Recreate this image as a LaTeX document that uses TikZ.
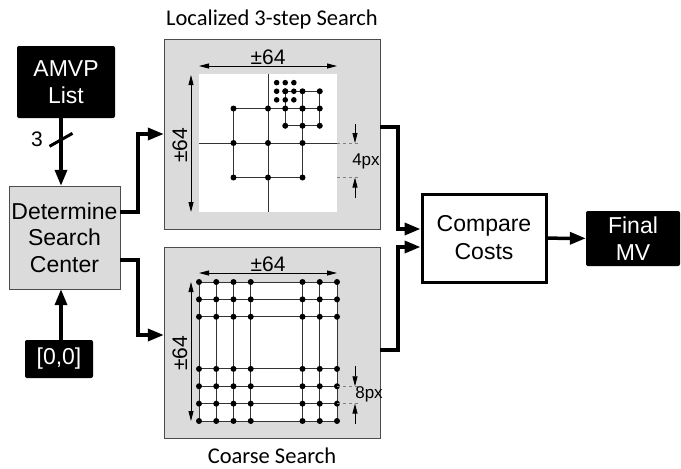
\documentclass[tikz,border=0pt]{standalone}
\usepackage{fontspec}
\setmainfont{Liberation Sans}
\newfontfamily\captionfont{Carlito}
\usetikzlibrary{arrows.meta,positioning,calc}
\tikzset
{
    process/.style={rectangle, draw=black!70, fill=black!14, align=center, inner sep=0pt, font=\fontsize{23}{26.5}\selectfont},
    terminal/.style={rectangle, rounded corners=2pt, fill=black, text=white, align=center, inner sep=0pt, font=\fontsize{23}{27}\selectfont},
    panel/.style={rectangle, draw=black!70, fill=black!14, inner sep=0pt, minimum width=216pt},
    compare/.style={rectangle, draw=black, line width=3pt, fill=white, align=center, inner sep=0pt, font=\fontsize{23}{28}\selectfont},
    arrow/.style={line width=3.5pt, -{Triangle[length=16pt,width=12pt]}},
    dimarrow/.style={line width=0.9pt, {Triangle[length=10pt,width=5pt]}-{Triangle[length=10pt,width=5pt]}},
    tickarrow/.style={line width=0.9pt, -{Triangle[length=10pt,width=5pt]}},
    gridline/.style={line width=0.9pt, black!80},
    dimline/.style={line width=0.9pt, black!50, dashed},
    dimlabel/.style={font=\fontsize{21}{24}\selectfont},
    pxlabel/.style={font=\fontsize{17}{20}\selectfont},
    caption/.style={inner sep=0pt, font=\captionfont\fontsize{22.5}{25}\selectfont}
}

\begin{document}
\begin{tikzpicture}[x=1pt, y=-1pt]
	\useasboundingbox (0,0) rectangle (681,469);
	\node (amvp) [terminal, minimum width=98pt, minimum height=72pt] at (66,82) {AMVP\\List};
	\node (center) [process, minimum width=111pt, minimum height=103pt] at (64.5,237.5) {Determine\\Search\\Center};
	\node (zero) [terminal, minimum width=68pt, minimum height=38pt] at (59,359) {[0,0]};
	\node (local) [panel, minimum height=190pt] at (272,134) {};
	\node (coarse) [panel, minimum height=191pt] at (272,342.5) {};
	\node (cmp) [compare, minimum width=124pt, minimum height=88pt] at (484,238) {Compare\\Costs};
	\node (final) [terminal, minimum width=94pt, minimum height=55pt] at (633,238.5) {Final\\MV};
	\node (localtitle) [caption] at (272,19) {Localized 3-step Search};
	\node (coarsetitle) [caption] at (272,455.5) {Coarse Search};

	% local 3-step search
	\fill[white] (199,74) rectangle (337,212);
	\draw[gridline] (268,74) -- (268,212);
	\draw[gridline] (199,143) -- (337,143);
	\draw[gridline] (233.5,108.5) rectangle (302.5,177.5);
	\draw[gridline] (285.25,91.25) rectangle (319.75,125.75);
	\draw[gridline] (302.5,91.25) -- (302.5,108.5);
	\draw[gridline] (302.5,108.5) -- (319.75,108.5);
	\foreach \i in {-1,0,1}
		\foreach \j in {-1,0,1}
		{
			\fill (268+34.5*\i, 143+34.5*\j) circle (3pt);
			\fill (302.5+17.25*\i, 108.5+17.25*\j) circle (3pt);
			\fill (285.25+8.6*\i, 91.25+8.6*\j) circle (2.8pt);
		}
	\draw[dimarrow] (199,66) -- node (lw) [dimlabel, above=-2pt] {±64} (337,66);
	\draw[dimarrow] (191,75) -- node (lh) [dimlabel, rotate=90, above=-2pt] {±64} (191,212);
	\draw[dimline] (337,143) -- (361,143);
	\draw[dimline] (337,177.5) -- (361,177.5);
	\draw[tickarrow] (355,124) -- (355,143);
	\draw[tickarrow] (355,198) -- (355,177.5);
	\node (lstep) [pxlabel] at (366,161) {4px};

	% coarse search
	\fill[white] (199,282) rectangle (337,421);
	\foreach \i in {-4,-3,-2,-1,2,3,4}
		\draw[gridline] (268+17.25*\i, 282) -- (268+17.25*\i, 421);
	\foreach \j in {-4,-3,-2,1,2,3,4}
		\draw[gridline] (199, 351.5+17.375*\j) -- (337, 351.5+17.375*\j);
	\foreach \i in {-4,-3,-2,-1,2,3,4}
		\foreach \j in {-4,-3,-2,1,2,3,4}
			\fill (268+17.25*\i, 351.5+17.375*\j) circle (3pt);
	\draw[dimarrow] (199,273) -- node (cw) [dimlabel, above=-2pt] {±64} (337,273);
	\draw[dimarrow] (191,282) -- node (ch) [dimlabel, rotate=90, above=-2pt] {±64} (191,421);
	\draw[dimline] (337,386.25) -- (361,386.25);
	\draw[dimline] (337,403.6) -- (361,403.6);
	\draw[tickarrow] (355,366) -- (355,386.25);
	\draw[tickarrow] (355,424) -- (355,403.6);
	\node (cstep) [pxlabel] at (369,394) {8px};

	% connectors
	\draw[arrow] ([xshift=-5pt]amvp.south) -- coordinate[pos=0.32] (bus) ([xshift=-3.5pt]center.north);
	\draw[line width=3pt] ($(bus)+(-11.5,6.5)$) -- ($(bus)+(11.5,-6.5)$);
	\node (count) [dimlabel] at ($(bus)+(-24,-1)$) {3};
	\draw[arrow] ([xshift=2pt]zero.north) -- ([xshift=-3.5pt]center.south);
	\draw[arrow] ([yshift=25.5pt]center.east) -- ++(18,0) |- (local.west);
	\draw[arrow] ([yshift=-22.5pt]center.east) -- ++(18,0) |- ([yshift=7.5pt]coarse.west);
	\draw[arrow] ([yshift=7pt]local.east) -- ++(18,0) |- ([yshift=9pt]cmp.west);
	\draw[arrow] ([yshift=-7.5pt]coarse.east) -- ++(18,0) |- ([yshift=-9pt]cmp.west);
	\draw[arrow] (cmp) -- (final);
\end{tikzpicture}
\end{document}
